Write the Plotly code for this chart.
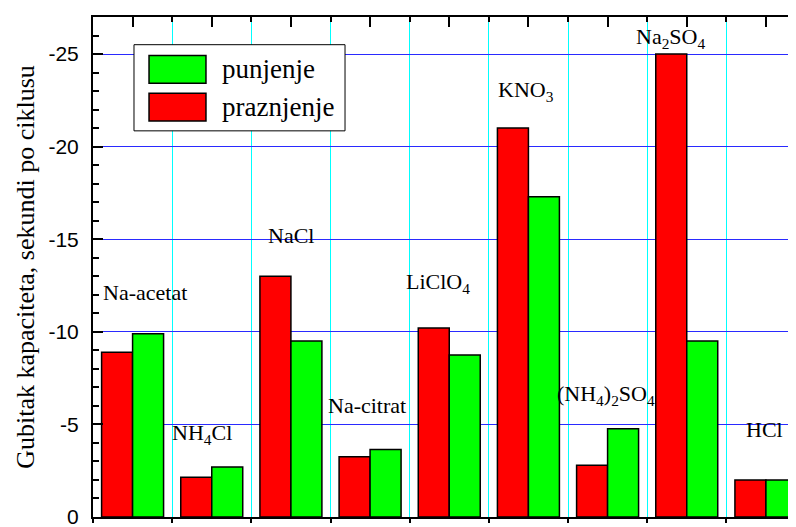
import plotly.graph_objects as go

# ---- data ----
categories = ["Na-acetat", "NH4Cl", "NaCl", "Na-citrat", "LiClO4",
              "KNO3", "(NH4)2SO4", "Na2SO4", "HCl"]
category_labels = ["Na-acetat", "NH<sub>4</sub>Cl", "NaCl", "Na-citrat",
                   "LiClO<sub>4</sub>", "KNO<sub>3</sub>",
                   "(NH<sub>4</sub>)<sub>2</sub>SO<sub>4</sub>",
                   "Na<sub>2</sub>SO<sub>4</sub>", "HCl"]
praznjenje = [-8.9, -2.15, -13.0, -3.25, -10.2, -21.0, -2.8, -25.0, -2.0]
punjenje = [-9.9, -2.7, -9.5, -3.65, -8.75, -17.3, -4.77, -9.5, -2.0]
y_ticks = [0, -5, -10, -15, -20, -25]
series_names = ["punjenje", "praznjenje"]

# label placement (offset from category centre, y in data units)
label_dx = [0.157, -0.124, 0.006, -0.04, -0.144, -0.033, -0.023, -0.202, -0.015]
label_y = [-12.15, -4.5, -15.2, -6.0, -12.65, -23.0, -6.6, -25.85, -4.75]

SERIF = "Liberation Serif"
SANS = "Liberation Sans"
RED = "#ff0000"
GREEN = "#00ff00"

fig = go.Figure()
fig.add_trace(go.Bar(
    x=categories, y=praznjenje, name=series_names[1],
    marker=dict(color=RED, line=dict(color="black", width=1.5)),
    showlegend=False,
))
fig.add_trace(go.Bar(
    x=categories, y=punjenje, name=series_names[0],
    marker=dict(color=GREEN, line=dict(color="black", width=1.5)),
    showlegend=False,
))
fig.add_trace(go.Scatter(x=[0], y=[0], xaxis="x2", mode="markers",
                         marker=dict(opacity=0), showlegend=False,
                         hoverinfo="skip"))

n = len(categories)
annotations = []
for i, (lab, dx, yy) in enumerate(zip(category_labels, label_dx, label_y)):
    annotations.append(dict(
        x=i + dx, y=yy, xref="x", yref="y", text=lab, showarrow=False,
        font=dict(family=SERIF, size=22, color="black"),
        xanchor="center", yanchor="middle",
    ))

# ---- legend drawn as a box with large swatches (paper coords) ----
shapes = [dict(type="rect", xref="paper", yref="paper",
               x0=0.0583, x1=0.3585, y0=0.7723, y1=0.9446,
               fillcolor="white", line=dict(color="black", width=1),
               layer="above")]
leg_rows = [(series_names[0], GREEN, 0.8673, 0.9228),
            (series_names[1], RED, 0.7921, 0.8475)]
for name, col, y0, y1 in leg_rows:
    shapes.append(dict(type="rect", xref="paper", yref="paper",
                       x0=0.0797, x1=0.1607, y0=y0, y1=y1,
                       fillcolor=col, line=dict(color="black", width=1.5),
                       layer="above"))
    annotations.append(dict(
        x=0.1807, y=(y0 + y1) / 2, xref="paper", yref="paper", text=name,
        showarrow=False, xanchor="left", yanchor="middle",
        font=dict(family=SERIF, size=27, color="black"),
    ))

# The page body has an 8px margin, so margins are offset by 8px.
fig.update_layout(
    width=796, height=527,
    margin=dict(l=85, r=8, t=7, b=15),
    paper_bgcolor="white", plot_bgcolor="white",
    barmode="group", bargap=0.217, bargroupgap=0.0,
    showlegend=False,
    annotations=annotations,
    shapes=shapes,
    xaxis=dict(
        type="category", range=[-0.5, n - 0.62],
        tickson="boundaries", showticklabels=False,
        ticks="outside", ticklen=4, tickwidth=1.5, tickcolor="black",
        showgrid=True, gridcolor="#00ffff", gridwidth=1,
        showline=True, linecolor="black", linewidth=2, mirror=True,
        zeroline=False,
    ),
    xaxis2=dict(
        overlaying="x", side="top", range=[-0.5, n - 0.62],
        tickmode="linear", tick0=0, dtick=1,
        ticks="inside", ticklen=10, tickwidth=1.5, tickcolor="black",
        minor=dict(ticks="inside", ticklen=5, tickwidth=1.5, tickcolor="black",
                   tick0=0.5, dtick=1, showgrid=False),
        showticklabels=False, showgrid=False, showline=False, zeroline=False,
    ),
    yaxis=dict(
        range=[0, -27], tickvals=y_ticks,
        ticktext=[str(v) for v in y_ticks],
        ticks="inside", ticklen=10, tickwidth=1.5, tickcolor="black",
        minor=dict(ticks="inside", ticklen=6, tickwidth=1.5, tickcolor="black",
                   dtick=1, tick0=0, showgrid=False),
        ticklabelstandoff=8,
        tickfont=dict(family=SANS, size=21, color="black"),
        showgrid=True, gridcolor="#2a2aff", gridwidth=1,
        showline=True, linecolor="black", linewidth=2, mirror=False,
        zeroline=False,
        title=dict(text="Gubitak kapaciteta, sekundi po ciklusu",
                   font=dict(family=SERIF, size=26, color="black"),
                   standoff=6),
    ),
)

fig.write_html("out.html")
